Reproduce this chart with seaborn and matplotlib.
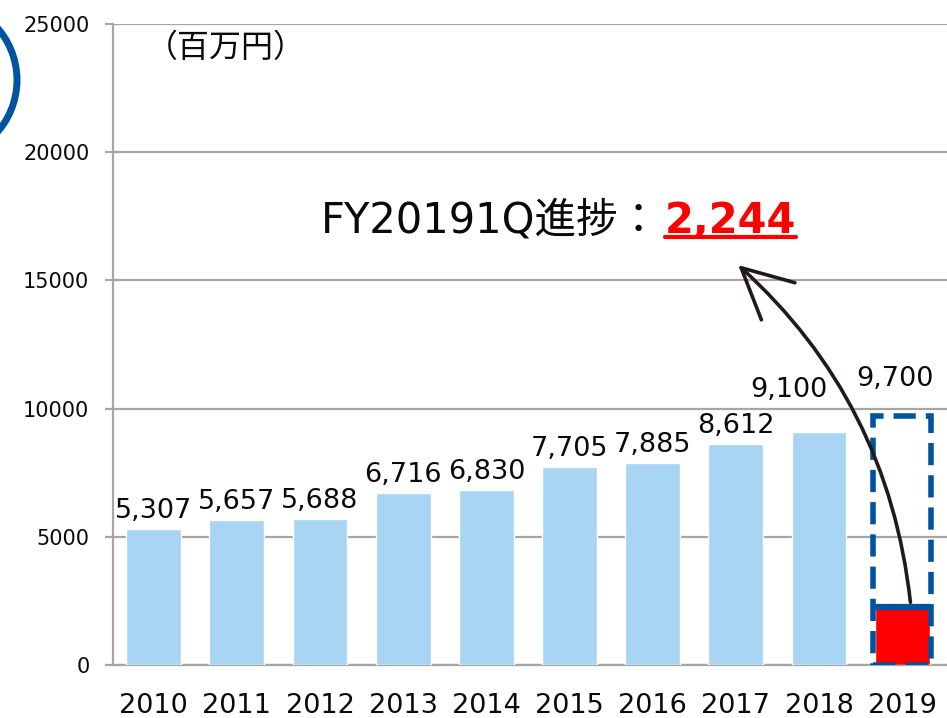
import matplotlib
matplotlib.use("Agg")
import matplotlib.pyplot as plt
import seaborn as sns
import pandas as pd
from matplotlib.patches import Ellipse

years = ['2010', '2011', '2012', '2013', '2014', '2015', '2016', '2017', '2018', '2019']
sales = [5307, 5657, 5688, 6716, 6830, 7705, 7885, 8612, 9100]
target_2019 = 9700
progress_2019 = 2244
yticks = [0, 5000, 10000, 15000, 20000, 25000]

sns.set_theme(style="white")
plt.rcParams['font.family'] = ['DejaVu Sans', 'Noto Sans CJK JP']
plt.rcParams['text.color'] = '#000000'
plt.rcParams['xtick.color'] = '#000000'
plt.rcParams['ytick.color'] = '#000000'

BAR = '#a9d5f5'
RED = '#ff0000'
BLUE = '#00549f'
GRID = '#a6a6a6'
INK = '#0a0a0a'

df = pd.DataFrame({'year': years, 'value': sales + [progress_2019]})
colors = [BAR] * len(sales) + [RED]

fig = plt.figure(figsize=(9.47, 7.18), dpi=100)
ax = fig.add_axes([113 / 947, 53 / 718, 834 / 947, 641 / 718])

sns.barplot(data=df, x='year', y='value', hue='year', palette=colors,
            legend=False, width=0.66, saturation=1, ax=ax, zorder=3)

# 2019 target (dashed box) and progress top line
ax.bar(len(years) - 1, target_2019, width=0.70, fill=False, edgecolor=BLUE,
       linestyle=(0, (4, 1.8)), linewidth=4, zorder=4)
ax.hlines(progress_2019, len(years) - 1 - 0.35, len(years) - 1 + 0.35,
          color=BLUE, linewidth=4.5, zorder=5)

ax.set_ylim(0, 25000)
ax.set_xlim(-0.49, 9.54)
ax.set_yticks(yticks)
ax.set_yticklabels([str(t) for t in yticks], fontsize=15, color=INK)
ax.yaxis.grid(True, color=GRID, linewidth=1.6, zorder=0)
ax.set_axisbelow(True)
ax.tick_params(axis='y', length=6, width=1.6, color=GRID, labelcolor=INK, pad=11, left=True)
ax.tick_params(axis='x', length=0, pad=20, labelsize=19.5, labelcolor=INK)
ax.set_xlabel('')
ax.set_ylabel('')
for s in ['top', 'right']:
    ax.spines[s].set_visible(False)
ax.spines['left'].set_color(GRID)
ax.spines['left'].set_linewidth(1.6)
ax.spines['bottom'].set_color(GRID)
ax.spines['bottom'].set_linewidth(1.6)

px = 72 / 100.0  # points per pixel
for i, v in enumerate(sales):
    dx, dy = 0, 5
    if i == len(sales) - 1:
        dx, dy = -30, 29
    ax.annotate(f'{v:,}', (i, v), xytext=(dx * px, dy * px), textcoords='offset points',
                ha='center', va='bottom', fontsize=19.5, color=INK, zorder=6)
ax.annotate(f'{target_2019:,}', (len(years) - 1, target_2019), xytext=(-7 * px, 24 * px),
            textcoords='offset points', ha='center', va='bottom', fontsize=19.5,
            color=INK, zorder=6)

# unit label
fig.text(146 / 947, 1 - 48 / 718, '（百万円）', fontsize=23, va='center', ha='left',
         family=['Noto Sans CJK JP'], color=INK)

# headline
t1 = fig.text(660 / 947, 1 - 233 / 718, 'FY20191Q進捗：', fontsize=30,
              ha='right', va='baseline', color=INK,
              family=['DejaVu Sans', 'Noto Sans CJK JP'])
t2 = fig.text(665 / 947, 1 - 233 / 718, f'{progress_2019:,}', fontsize=30,
              ha='left', va='baseline', color=RED, fontweight='bold')
fig.canvas.draw()
bb = t2.get_window_extent()
W, H = fig.bbox.width, fig.bbox.height
uy = 1 - 237 / 718
fig.add_artist(plt.Line2D([bb.x0 / W, bb.x1 / W], [uy, uy], color=RED, linewidth=3))

# curved arrow from the 2019 progress bar to the headline
ax.annotate('', xy=((738 - 154) / 83.1, (665 - 265) / 641 * 25000),
            xytext=(len(years) - 1 + 0.1, progress_2019 + 200),
            arrowprops=dict(arrowstyle='->,head_length=1.8,head_width=0.9',
                            connectionstyle='arc3,rad=0.19', color='#221a1a',
                            linewidth=2.6, shrinkA=0, shrinkB=0, mutation_scale=20),
            zorder=7)

# decorative partial circle at the left edge
fig.add_artist(Ellipse((-62 / 947, 1 - 80 / 718), 2 * 79 / 947, 2 * 79 / 718,
                       transform=fig.transFigure, fill=False, edgecolor=BLUE,
                       linewidth=5))

fig.savefig('out.png', dpi=100)
